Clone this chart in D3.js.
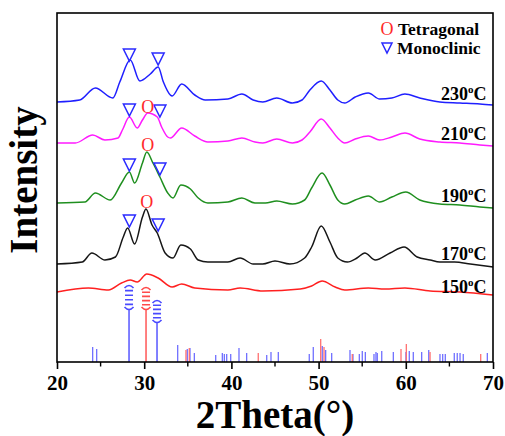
<!DOCTYPE html>
<html>
<head>
<meta charset="utf-8">
<script src="https://cdn.jsdelivr.net/npm/d3@7"></script>
<style>
  body { margin: 0; background: #fff; }
  svg { display: block; font-family: "Liberation Serif", "Times New Roman", serif; }
</style>
</head>
<body>
<svg width="505" height="436"></svg>
<script>
// XRD patterns, [2theta, intensity a.u. incl. vertical offset]
const curve230 = [
  [20.0, 260], [22.6, 262], [24.4, 274], [26.4, 264], [27.2, 280], [28.4, 302],
  [29.5, 281], [30.7, 288], [31.6, 295], [32.2, 280], [33.0, 267], [33.2, 266],
  [34.3, 278], [35.8, 267], [37.0, 262], [39.6, 263], [41.2, 268], [42.5, 262],
  [43.6, 260], [45.2, 264], [47.0, 259], [48.1, 262], [49.0, 272], [50.3, 281],
  [51.3, 272], [52.2, 262], [53.0, 259], [54.2, 265], [55.7, 269], [57.0, 263],
  [58.4, 264], [59.9, 268], [61.6, 264], [63.9, 260], [66.2, 259], [68.5, 258],
  [70.0, 257],
];
const curve210 = [
  [20.0, 219], [22.1, 219], [24.1, 227], [25.5, 222], [27.0, 224], [27.5, 232],
  [28.3, 245], [29.2, 234], [29.8, 242], [30.4, 249], [31.5, 245], [32.0, 235],
  [32.7, 225], [33.0, 224], [34.3, 234], [35.8, 226], [37.3, 220], [39.6, 221],
  [41.2, 224], [42.7, 220], [43.6, 219], [45.2, 223], [47.0, 219], [48.1, 222],
  [49.0, 230], [50.3, 243], [51.3, 234], [52.2, 224], [53.0, 219], [54.2, 223],
  [55.7, 226], [57.0, 222], [58.4, 225], [59.9, 229], [61.6, 223], [63.9, 220],
  [66.2, 219], [68.5, 217], [70.0, 216],
];
const curve190 = [
  [20.0, 159], [23.2, 160], [24.4, 169], [26.1, 162], [27.4, 179], [28.3, 190],
  [28.9, 179], [29.8, 199], [30.3, 210], [31.0, 199], [31.8, 185], [32.7, 169],
  [33.3, 164], [34.2, 177], [35.3, 173], [36.2, 164], [37.3, 159], [39.6, 160],
  [41.2, 164], [42.7, 159], [43.9, 159], [45.2, 161], [47.0, 158], [48.4, 162],
  [49.2, 174], [50.4, 189], [51.3, 177], [52.2, 162], [53.0, 158], [54.2, 162],
  [55.7, 166], [57.0, 160], [58.4, 165], [60.0, 170], [61.6, 162], [63.9, 158],
  [66.2, 157], [68.5, 155], [70.0, 154],
];
const curve170 = [
  [20.0, 98], [22.9, 100], [24.0, 109], [25.5, 102], [26.7, 105], [27.6, 125],
  [28.1, 134], [28.9, 118], [29.8, 145], [30.2, 153], [30.9, 137], [31.5, 129],
  [32.4, 109], [33.3, 104], [34.2, 117], [35.3, 113], [36.2, 102], [37.3, 100],
  [39.6, 100], [41.0, 104], [42.5, 98], [43.6, 98], [45.0, 101], [46.7, 98],
  [48.4, 104], [49.2, 115], [50.3, 136], [51.3, 120], [52.2, 104], [53.3, 100],
  [54.4, 104], [55.3, 109], [56.5, 102], [58.2, 109], [59.8, 115], [61.3, 105],
  [62.8, 102], [63.9, 100], [65.6, 100], [67.4, 98], [70.0, 95],
];
const curve150 = [
  [20.0, 70], [23.6, 74], [25.9, 72], [27.4, 79], [28.4, 82], [29.2, 80],
  [30.3, 88], [31.6, 84], [33.2, 75], [34.3, 78], [35.8, 74], [39.6, 72],
  [41.0, 74], [43.6, 71], [47.9, 73], [49.2, 76], [50.4, 81], [51.9, 75],
  [53.0, 72], [55.7, 74], [57.6, 73], [59.9, 74], [62.8, 71], [66.2, 70],
  [70.0, 67],
];

const seriesNames = ['230', '210', '190', '170', '150'];
const seriesColors = ['#1f1fff', '#ff1aff', '#1f8f1f', '#161616', '#ff2020'];
const labelLevels = [262, 222, 160, 102, 69];

// phase markers on the peaks
const monoclinicMarks = [
  [28.3, 307], [31.6, 303],
  [28.3, 252], [31.8, 251],
  [28.3, 197], [31.8, 193],
  [28.3, 141], [31.6, 137],
];
const tetragonalMarks = [[30.4, 256], [30.4, 218], [30.3, 161]];

// reference cards: [2theta, relative intensity]
const monoSticks = [
  [24.09, 15], [24.55, 13], [33.84, 17], [34.94, 13], [35.25, 14], [35.75, 9],
  [38.2, 7], [38.96, 9], [39.19, 8], [39.46, 8], [39.92, 8], [40.87, 14],
  [41.75, 9], [44.05, 7], [44.54, 10], [45.38, 10], [48.93, 8], [49.39, 15],
  [50.42, 16], [50.81, 12], [51.5, 9], [53.6, 12], [53.94, 8], [54.67, 8],
  [55.01, 11], [55.36, 10], [56.35, 8], [56.58, 10], [56.73, 9], [57.24, 11],
  [58.57, 10], [60.02, 10], [60.4, 11], [60.86, 10], [61.82, 10], [62.63, 12],
  [63.92, 8], [64.23, 8], [64.53, 8], [65.56, 9], [65.9, 9], [66.22, 9],
  [66.59, 8], [69.35, 9],
];
const tetraSticks = [
  [34.79, 12], [35.17, 14], [43.08, 9], [50.24, 23], [50.62, 15], [53.86, 8],
  [59.45, 13], [60.06, 18], [62.78, 10], [68.59, 8],
];
// strongest lines, drawn with a break: [2theta, stick height, break height, phase]
const tallSticks = [[28.26, 52, 25, 'm'], [30.21, 52, 23, 't'], [31.47, 39, 23, 'm']];

const xTicks = [20, 30, 40, 50, 60, 70];
const xMinor = [25, 35, 45, 55, 65];

const svg = d3.select('svg');
const plotLeft = 57, plotRight = 493, plotTop = 13, plotBottom = 362;

const x = d3.scaleLinear().domain([20, 70]).range([plotLeft, plotRight]);
const y = d3.scaleLinear().domain([0, 349]).range([plotBottom, plotTop]);

const blue = '#2a2aff';
const red = '#ff2a2a';

// reference sticks
svg.append('g').selectAll('line').data(monoSticks).join('line')
  .attr('x1', d => x(d[0])).attr('x2', d => x(d[0]))
  .attr('y1', y(0)).attr('y2', d => y(d[1]))
  .attr('stroke', '#7070ff').attr('stroke-width', 1.3);
svg.append('g').selectAll('line').data(tetraSticks).join('line')
  .attr('x1', d => x(d[0])).attr('x2', d => x(d[0]))
  .attr('y1', y(0)).attr('y2', d => y(d[1]))
  .attr('stroke', '#ff7070').attr('stroke-width', 1.3);

const tall = svg.append('g').selectAll('g').data(tallSticks).join('g')
  .attr('stroke', d => (d[3] === 'm' ? '#4a4aff' : '#ff4a4a'))
  .attr('fill', 'none');
tall.append('line')
  .attr('x1', d => x(d[0])).attr('x2', d => x(d[0]))
  .attr('y1', y(0)).attr('y2', d => y(d[1]))
  .attr('stroke-width', 1.4);
tall.append('path')
  .attr('stroke-width', 1.6)
  .attr('d', (d) => {
    const cx = x(d[0]);
    const y0 = y(d[1]);
    const y1 = y(d[1] + d[2]);
    let p = `M${cx - 4.5},${y1 + 3}Q${cx},${y1 - 2} ${cx + 4.5},${y1 + 3}`;
    p += `M${cx - 4.5},${y0 - 3}Q${cx},${y0 + 2} ${cx + 4.5},${y0 - 3}`;
    const n = 4;
    for (let i = 1; i <= n; i += 1) {
      const yy = y1 + 1 + ((y0 - y1 - 2) * i) / (n + 1);
      p += `M${cx - 4},${yy}H${cx + 4}`;
    }
    return p;
  });

// patterns
const line = d3.line()
  .x(d => x(d[0]))
  .y(d => y(d[1]))
  .curve(d3.curveMonotoneX);

[curve230, curve210, curve190, curve170, curve150].forEach((c, i) => {
  svg.append('path')
    .datum(c)
    .attr('d', line)
    .attr('fill', 'none')
    .attr('stroke', seriesColors[i])
    .attr('stroke-width', 1.5)
    .attr('stroke-linejoin', 'round');
});

// markers
function triangle(cx, cy, s) {
  return `M${cx - s / 2},${cy - s / 2}H${cx + s / 2}L${cx},${cy + s / 2}Z`;
}
svg.append('g').selectAll('path').data(monoclinicMarks).join('path')
  .attr('d', d => triangle(x(d[0]), y(d[1]), 12))
  .attr('fill', 'none').attr('stroke', blue).attr('stroke-width', 1.5);
svg.append('g').selectAll('text').data(tetragonalMarks).join('text')
  .attr('x', d => x(d[0])).attr('y', d => y(d[1]) + 6.5)
  .attr('text-anchor', 'middle')
  .attr('font-size', 18)
  .attr('fill', red)
  .text('O');

// series labels
const lbl = svg.append('g').selectAll('text').data(seriesNames).join('text')
  .attr('x', 441).attr('y', (d, i) => y(labelLevels[i]))
  .attr('font-size', 18).attr('font-weight', 'bold');
lbl.append('tspan').text(d => d);
lbl.append('tspan').attr('font-size', 11).attr('dy', -7).text('o');
lbl.append('tspan').attr('dy', 7).text('C');

// legend
svg.append('text').attr('x', 387).attr('y', 35).attr('text-anchor', 'middle')
  .attr('font-size', 18).attr('fill', red).text('O');
svg.append('path').attr('d', triangle(387, 48, 10))
  .attr('fill', 'none').attr('stroke', blue).attr('stroke-width', 1.5);
svg.append('text').attr('x', 398).attr('y', 35)
  .attr('font-size', 17.5).attr('font-weight', 'bold').text('Tetragonal');
svg.append('text').attr('x', 397).attr('y', 54)
  .attr('font-size', 17.5).attr('font-weight', 'bold').text('Monoclinic');

// frame and axis
svg.append('rect')
  .attr('x', plotLeft).attr('y', plotTop)
  .attr('width', plotRight - plotLeft).attr('height', plotBottom - plotTop)
  .attr('fill', 'none').attr('stroke', '#000').attr('stroke-width', 1.6);

const xAxis = svg.append('g')
  .attr('transform', `translate(0,${plotBottom})`)
  .call(d3.axisBottom(x).tickValues(xTicks).tickSize(7).tickPadding(6).tickFormat(d3.format('d')));
xAxis.select('.domain').remove();
xAxis.selectAll('line').attr('stroke-width', 1.6);
xAxis.selectAll('text')
  .attr('font-family', '"Liberation Serif", serif')
  .attr('font-size', 21).attr('font-weight', 'bold').attr('fill', '#000');

svg.append('g').selectAll('line').data(xMinor).join('line')
  .attr('x1', d => x(d)).attr('x2', d => x(d))
  .attr('y1', plotBottom).attr('y2', plotBottom + 4.5)
  .attr('stroke', '#000').attr('stroke-width', 1.4);

svg.append('text')
  .attr('x', 275).attr('y', 428)
  .attr('text-anchor', 'middle')
  .attr('font-size', 39).attr('font-weight', 'bold')
  .text('2Theta(°)');

svg.append('text')
  .attr('transform', 'translate(37,180) rotate(-90)')
  .attr('text-anchor', 'middle')
  .attr('font-size', 39).attr('font-weight', 'bold')
  .text('Intensity');
</script>
</body>
</html>
